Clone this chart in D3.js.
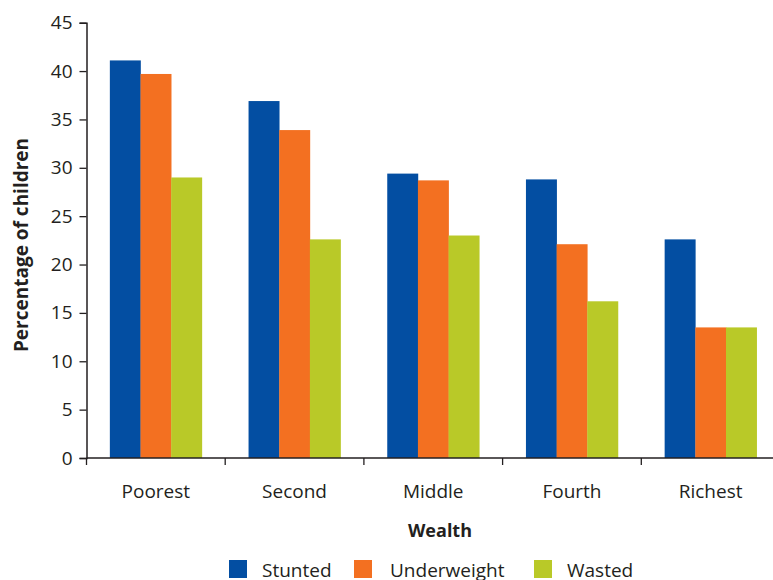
<!DOCTYPE html>
<html>
<head>
<meta charset="utf-8">
<script src="https://cdn.jsdelivr.net/npm/d3@7"></script>
<style>
  html, body { margin: 0; padding: 0; background: #fff; }
  svg { display: block; }
  text { font-family: "Open Sans", "Noto Sans", sans-serif; fill: #231f20; }
</style>
</head>
<body>
<script>
// Child undernutrition by household wealth quintile
const categories = ["Poorest", "Second", "Middle", "Fourth", "Richest"];
const seriesNames = ["Stunted", "Underweight", "Wasted"];
const stunted     = [41.1, 36.9, 29.4, 28.8, 22.6];
const underweight = [39.7, 33.9, 28.7, 22.1, 13.5];
const wasted      = [29.0, 22.6, 23.0, 16.2, 13.5];
const seriesValues = [stunted, underweight, wasted];
const colors = ["#034ea2", "#f37021", "#b9c928"];
const yTicks = [0, 5, 10, 15, 20, 25, 30, 35, 40, 45];

const width = 773, height = 580;
const plotLeft = 86.5, plotRight = 780, plotTop = 22.7, plotBottom = 458;

const svg = d3.select("body").append("svg")
  .attr("width", width).attr("height", height);

const x = d3.scaleBand().domain(categories).range([plotLeft, plotRight]).padding(0);
const bw = x.bandwidth();
const groupW = 92;
const xs = d3.scaleBand().domain(seriesNames)
  .range([(bw - groupW) / 2, (bw + groupW) / 2]).padding(0);
const y = d3.scaleLinear().domain([0, 45]).range([plotBottom, plotTop]);

// Bars
categories.forEach((c, i) => {
  const g = svg.append("g").attr("transform", `translate(${x(c)},0)`);
  g.selectAll("rect")
    .data(seriesNames.map((s, k) => ({ s, v: seriesValues[k][i], k })))
    .join("rect")
    .attr("x", d => xs(d.s))
    .attr("width", xs.bandwidth() + 0.3)
    .attr("y", d => y(d.v))
    .attr("height", d => y(0) - y(d.v))
    .attr("fill", d => colors[d.k]);
});

// Y axis
const yAxis = svg.append("g")
  .attr("transform", `translate(${plotLeft},0)`)
  .call(d3.axisLeft(y).tickValues(yTicks).tickSize(7).tickPadding(7));
yAxis.select(".domain").attr("stroke", "#231f20").attr("stroke-width", 1.5);
yAxis.selectAll(".tick line").attr("stroke", "#231f20").attr("stroke-width", 1.3);
yAxis.selectAll("text").style("font-size", "19px").attr("fill", "#231f20");

// X axis: baseline with tick marks at category boundaries
const xAxisG = svg.append("g");
xAxisG.append("line")
  .attr("x1", plotLeft).attr("x2", width)
  .attr("y1", y(0)).attr("y2", y(0))
  .attr("stroke", "#231f20").attr("stroke-width", 1.5);
xAxisG.selectAll(".bound")
  .data(categories)
  .join("line")
  .attr("x1", d => x(d)).attr("x2", d => x(d))
  .attr("y1", y(0)).attr("y2", y(0) + 7)
  .attr("stroke", "#231f20").attr("stroke-width", 1.3);
xAxisG.selectAll(".lbl")
  .data(categories)
  .join("text")
  .attr("x", d => x(d) + bw / 2)
  .attr("y", 498)
  .attr("text-anchor", "middle")
  .style("font-size", "19px")
  .text(d => d);

// Axis titles
svg.append("text")
  .attr("transform", "translate(28,245) rotate(-90)")
  .attr("text-anchor", "middle")
  .style("font-size", "19px").style("font-weight", "bold")
  .text("Percentage of children");
svg.append("text")
  .attr("x", 440).attr("y", 537)
  .attr("text-anchor", "middle")
  .style("font-size", "18px").style("font-weight", "bold")
  .text("Wealth");

// Legend
const legendX = [229, 354, 534];
const leg = svg.selectAll(".legend")
  .data(seriesNames)
  .join("g")
  .attr("transform", (d, i) => `translate(${legendX[i]},560)`);
leg.append("rect").attr("width", 18).attr("height", 18)
  .attr("fill", (d, i) => colors[i]);
leg.append("text").attr("x", (d, i) => i === 1 ? 36 : 33).attr("y", 17)
  .style("font-size", "19px").text(d => d);
</script>
</body>
</html>
